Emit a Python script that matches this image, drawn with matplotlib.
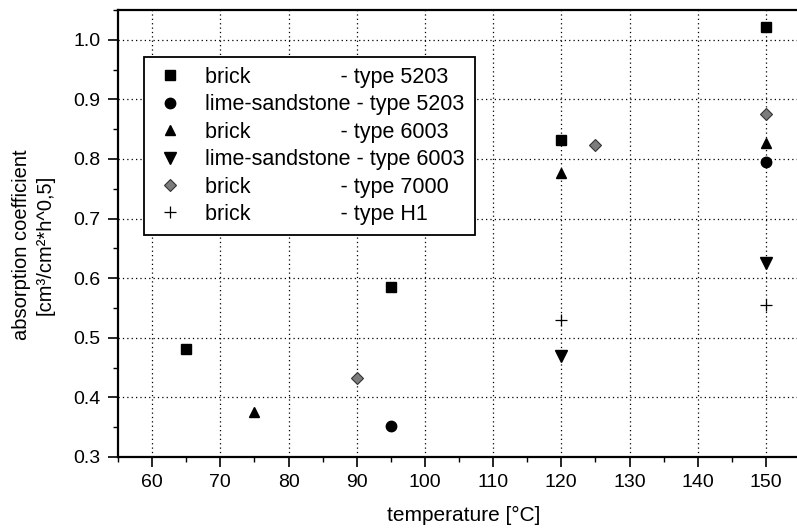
import numpy as np
from matplotlib import pyplot as plt
from matplotlib.ticker import MultipleLocator

plt.rcParams['font.family'] = ['Liberation Sans', 'DejaVu Sans']

# data
brick5203_x = [65, 95, 120, 150]
brick5203_y = [0.481, 0.585, 0.832, 1.022]

lime5203_x = [95, 150]
lime5203_y = [0.352, 0.795]

brick6003_x = [75, 120, 150]
brick6003_y = [0.375, 0.776, 0.827]

lime6003_x = [120, 150]
lime6003_y = [0.470, 0.625]

brick7000_x = [90, 125, 150]
brick7000_y = [0.432, 0.823, 0.876]

brickH1_x = [120, 150]
brickH1_y = [0.530, 0.555]

labels = ['brick               - type 5203',
          'lime-sandstone - type 5203',
          'brick               - type 6003',
          'lime-sandstone - type 6003',
          'brick               - type 7000',
          'brick               - type H1']


fig = plt.figure(figsize=(7.97, 5.29), dpi=100)
ax = fig.add_axes([118 / 797., 72 / 529., 682 / 797., 447 / 529.])

ax.plot(brick5203_x, brick5203_y, 's', color='black', markersize=7.5,
        label=labels[0])
ax.plot(lime5203_x, lime5203_y, 'o', color='black', markersize=7.5,
        label=labels[1])
ax.plot(brick6003_x, brick6003_y, '^', color='black', markersize=7.5,
        label=labels[2])
ax.plot(lime6003_x, lime6003_y, 'v', color='black', markersize=8.5,
        label=labels[3])
ax.plot(brick7000_x, brick7000_y, 'D', markerfacecolor='#7c7c7c',
        markeredgecolor='#333333', markeredgewidth=0.8, markersize=6.3,
        label=labels[4])
ax.plot(brickH1_x, brickH1_y, '+', color='black', markersize=8,
        markeredgewidth=0.9, label=labels[5])

ax.set_xlim(55, 155)
ax.set_ylim(0.3, 1.05)
ax.xaxis.set_major_locator(MultipleLocator(10))
ax.xaxis.set_minor_locator(MultipleLocator(5))
ax.yaxis.set_major_locator(MultipleLocator(0.1))
ax.yaxis.set_minor_locator(MultipleLocator(0.05))
ax.yaxis.set_major_formatter(plt.FuncFormatter(lambda v, p: '%.1f' % v))

ax.grid(True, which='major', color='black', linestyle=(0, (1, 2.5)),
        linewidth=0.9)
ax.set_axisbelow(True)

ax.tick_params(which='major', direction='out', length=7.5, width=1.2,
               labelsize=14, top=False, right=False, pad=5)
ax.tick_params(which='minor', direction='out', length=3.8, width=1.0,
               top=False, right=False)
for side in ['left', 'bottom', 'top']:
  ax.spines[side].set_linewidth(1.6)
ax.spines['right'].set_visible(False)

ax.set_xlabel('temperature [°C]', fontsize=15)
ax.set_ylabel('absorption coefficient\n[cm³/cm²*h^0,5]', fontsize=14.5,
              linespacing=1.3)
ax.xaxis.set_label_coords(0.507, -0.11)
ax.yaxis.set_label_coords(-0.093, 0.474)

leg = ax.legend(loc='upper left', bbox_to_anchor=(26 / 682., 1 - 47 / 447.),
                fontsize=15.5, frameon=True, fancybox=False, borderpad=0.45,
                labelspacing=0.3, handletextpad=0.9, handlelength=1.5,
                borderaxespad=0)
leg.get_frame().set_edgecolor('black')
leg.get_frame().set_linewidth(1.3)
leg.get_frame().set_alpha(1)

fig.savefig('out.png', dpi=100)
